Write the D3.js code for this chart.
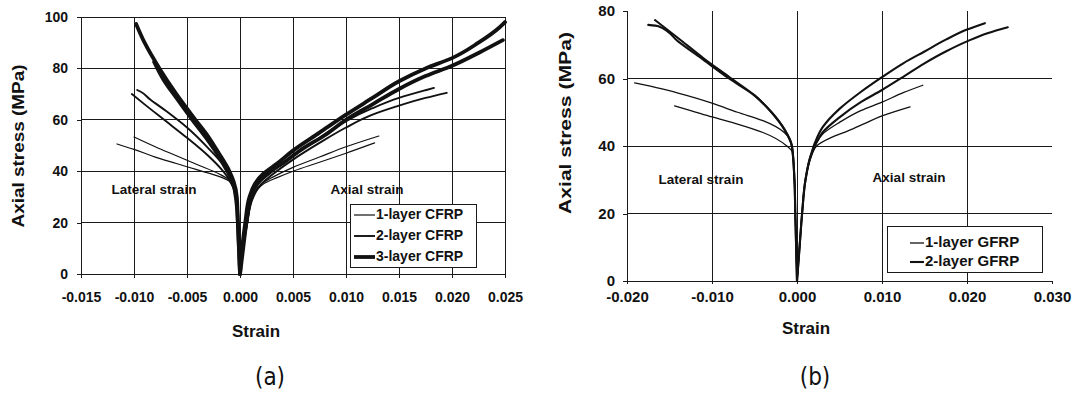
<!DOCTYPE html>
<html lang="en">
<head>
<meta charset="UTF-8">
<title>Axial stress vs strain</title>
<script src="https://cdn.jsdelivr.net/npm/d3@7"></script>
<style>
    body { margin: 0; background: #fff; }
    svg { display: block; }
    text { font-family: "Liberation Sans", Arial, sans-serif; font-weight: bold; fill: #111; }
    .grid line, .frame { stroke: #1a1a1a; stroke-width: 1; shape-rendering: crispEdges; }
    .curve { fill: none; stroke: #111; stroke-linejoin: round; stroke-linecap: round; }
    .caption { font-family: "Liberation Sans Narrow", "DejaVu Sans Condensed", sans-serif; font-weight: normal; }
</style>
</head>
<body>
<div id="chart"></div>
<script>
// ---- panel (a): CFRP ----
const strainTicksA = [-0.015, -0.010, -0.005, 0.000, 0.005, 0.010, 0.015, 0.020, 0.025]
const stressTicksA = [0, 20, 40, 60, 80, 100]
const seriesA = ['1-layer CFRP', '2-layer CFRP', '3-layer CFRP']

// [strain, stress MPa], two specimens per layer count
const cfrp1LatA = [[0,0],[-0.0001,10],[-0.0002,20],[-0.0004,30],[-0.001,36],[-0.002,38],[-0.004,40.5],[-0.006,43],[-0.008,45.5],[-0.010,48.5],[-0.0116,50.6]]
const cfrp1LatB = [[0,0],[-0.0001,10],[-0.0002,20],[-0.0004,30],[-0.001,36.5],[-0.002,39],[-0.004,42.5],[-0.006,46],[-0.008,49.5],[-0.0100,53.3]]
const cfrp1AxA = [[0,0],[0.0003,10],[0.0007,20],[0.0012,30],[0.002,35],[0.003,37.5],[0.005,41.5],[0.0075,45.5],[0.010,49.5],[0.0131,53.7]]
const cfrp1AxB = [[0,0],[0.0003,10],[0.0007,20],[0.0013,30],[0.0022,35],[0.0035,37.5],[0.005,40],[0.0075,43.5],[0.010,47],[0.0127,51]]

const cfrp2LatA = [[0,0],[-0.0001,10],[-0.0002,20],[-0.0004,30],[-0.0008,37],[-0.0015,42],[-0.003,49],[-0.005,57],[-0.007,63.5],[-0.0085,68],[-0.0094,71],[-0.0097,71.6]]
const cfrp2LatB = [[0,0],[-0.0001,10],[-0.0002,20],[-0.0004,30],[-0.0009,36],[-0.0017,40.5],[-0.003,46],[-0.005,53],[-0.007,59.5],[-0.009,66],[-0.0102,70]]
const cfrp2AxA = [[0,0],[0.0003,10],[0.0006,20],[0.001,30],[0.0017,35],[0.0028,39],[0.005,46],[0.0075,53],[0.010,59.5],[0.0125,64.5],[0.015,68.5],[0.0175,71.5],[0.0183,72.4]]
const cfrp2AxB = [[0,0],[0.0003,10],[0.0007,20],[0.0012,30],[0.002,35],[0.003,38.5],[0.005,44.5],[0.0075,51],[0.010,57],[0.0125,62],[0.015,65.5],[0.0175,68.5],[0.0195,70.5]]

const cfrp3LatA = [[0,0],[-0.0001,10],[-0.0002,20],[-0.0003,30],[-0.0006,36],[-0.001,40],[-0.002,47],[-0.003,53.5],[-0.0042,60],[-0.006,70],[-0.0076,80],[-0.009,90],[-0.0098,97.3]]
const cfrp3LatB = [[0,0],[-0.0001,10],[-0.0002,20],[-0.0004,30],[-0.0007,36],[-0.0012,40],[-0.0022,47],[-0.0033,53.5],[-0.0045,60],[-0.006,68.5],[-0.0072,75.5],[-0.0081,82.5]]
const cfrp3AxA = [[0,0],[0.0002,10],[0.0005,20],[0.0009,30],[0.0014,35],[0.0022,39],[0.0035,43],[0.005,48],[0.0075,55],[0.010,62],[0.0125,68.5],[0.015,75],[0.0175,80],[0.020,84],[0.0225,90],[0.0245,96],[0.025,98]]
const cfrp3AxB = [[0,0],[0.0003,10],[0.0006,20],[0.001,30],[0.0016,35],[0.0025,39],[0.004,43],[0.006,49],[0.008,54],[0.010,60],[0.0125,66],[0.015,72],[0.0175,77],[0.020,81],[0.0225,86],[0.0248,91]]

// ---- panel (b): GFRP ----
const strainTicksB = [-0.020, -0.010, 0.000, 0.010, 0.020, 0.030]
const stressTicksB = [0, 20, 40, 60, 80]
const seriesB = ['1-layer GFRP', '2-layer GFRP']

const gfrp1LatA = [[0,0],[-0.0001,10],[-0.0002,20],[-0.0003,30],[-0.0006,40],[-0.0015,44],[-0.004,47.5],[-0.007,50],[-0.010,52.7],[-0.013,55],[-0.016,57],[-0.0191,58.7]]
const gfrp1LatB = [[0,0],[-0.0001,10],[-0.0002,20],[-0.0003,30],[-0.0005,38],[-0.0012,40],[-0.004,44],[-0.007,46.5],[-0.010,48.6],[-0.0125,50.5],[-0.0144,51.9]]
const gfrp1AxA = [[0,0],[0.0003,10],[0.0006,20],[0.001,30],[0.0016,37],[0.0022,40.5],[0.003,43.5],[0.005,47],[0.0075,50.5],[0.010,53],[0.0125,55.8],[0.0148,58]]
const gfrp1AxB = [[0,0],[0.0003,10],[0.0006,20],[0.001,30],[0.0017,37],[0.0023,40],[0.004,42.5],[0.006,44.5],[0.008,46.7],[0.010,48.9],[0.0133,51.6]]

const gfrp2LatA = [[0,0],[-0.0001,10],[-0.0002,20],[-0.0003,30],[-0.0006,40],[-0.0015,45],[-0.003,50],[-0.005,55],[-0.008,60.5],[-0.011,66],[-0.014,72],[-0.0167,77.3]]
const gfrp2LatB = [[0,0],[-0.0001,10],[-0.0002,20],[-0.0003,30],[-0.0006,40],[-0.0015,45],[-0.003,50],[-0.005,55],[-0.008,60],[-0.011,65.5],[-0.014,71],[-0.0163,75.5],[-0.0175,75.9]]
const gfrp2AxA = [[0,0],[0.0003,10],[0.0006,20],[0.001,30],[0.0016,37],[0.0021,40.9],[0.003,45.5],[0.005,51],[0.0075,56],[0.010,60.4],[0.0125,64.5],[0.015,68],[0.0175,71.5],[0.020,74.5],[0.0221,76.4]]
const gfrp2AxB = [[0,0],[0.0003,10],[0.0006,20],[0.001,30],[0.0016,37],[0.0022,40.5],[0.003,44],[0.005,48.5],[0.0075,53],[0.010,56.6],[0.0125,60.5],[0.015,64.5],[0.0175,68],[0.020,71],[0.0225,73.5],[0.0248,75.2]]

const curvesA = [
    [cfrp1LatA, cfrp1LatB, cfrp1AxA, cfrp1AxB],
    [cfrp2LatA, cfrp2LatB, cfrp2AxA, cfrp2AxB],
    [cfrp3LatA, cfrp3LatB, cfrp3AxA, cfrp3AxB],
]
const curvesB = [
    [gfrp1LatA, gfrp1LatB, gfrp1AxA, gfrp1AxB],
    [gfrp2LatA, gfrp2LatB, gfrp2AxA, gfrp2AxB],
]

const svg = d3.select('#chart').append('svg').attr('width', 1075).attr('height', 400)

function drawPanel(p) {
    const x = d3.scaleLinear().domain(p.xDomain).range(p.xRange)
    const y = d3.scaleLinear().domain(p.yDomain).range(p.yRange)
    const g = svg.append('g')

    // grid
    const grid = g.append('g').attr('class', 'grid')
    grid.selectAll('.h').data(p.hGrid).enter().append('line')
        .attr('x1', x(p.xDomain[0])).attr('x2', x(p.xDomain[1]))
        .attr('y1', d => y(d)).attr('y2', d => y(d))
    grid.selectAll('.v').data(p.vGrid).enter().append('line')
        .attr('x1', d => x(d)).attr('x2', d => x(d))
        .attr('y1', y(0)).attr('y2', y(p.yDomain[1]))

    // axes
    const yAxis = g.append('g').attr('transform', `translate(${x(p.xDomain[0])},0)`)
        .call(d3.axisLeft(y).tickValues(p.yTicks).tickSize(4).tickPadding(p.yPad))
    const xAxis = g.append('g').attr('transform', `translate(0,${y(0)})`)
        .call(d3.axisBottom(x).tickValues(p.xTicks).tickFormat(d3.format('.3f')).tickSize(p.xTick).tickPadding(p.xPad))
    ;[yAxis, xAxis].forEach(a => {
        a.selectAll('path, line').attr('stroke', '#1a1a1a').attr('shape-rendering', 'crispEdges')
        a.selectAll('text').attr('fill', '#111').style('font-size', p.tickFont + 'px')
            .style('font-family', '"Liberation Sans", Arial, sans-serif').style('font-weight', 'bold')
    })
    xAxis.selectAll('text').text(d => d3.format('.3f')(d).replace('−', '-'))

    // curves
    const line = d3.line().x(d => x(d[0])).y(d => y(d[1])).curve(d3.curveMonotoneY)
    p.curves.forEach((set, i) => {
        g.append('g').selectAll('path').data(set).enter().append('path')
            .attr('class', 'curve')
            .attr('stroke-width', p.widths[i])
            .attr('d', line)
    })

    // annotations
    g.append('text').attr('x', p.latPos[0]).attr('y', p.latPos[1]).attr('text-anchor', 'middle')
        .attr('dominant-baseline', 'middle').style('font-size', p.noteFont + 'px').text('Lateral strain')
    g.append('text').attr('x', p.axPos[0]).attr('y', p.axPos[1]).attr('text-anchor', 'middle')
        .attr('dominant-baseline', 'middle').style('font-size', p.noteFont + 'px').text('Axial strain')

    // axis titles
    g.append('text').attr('transform', `translate(${p.yTitle[0]},${p.yTitle[1]}) rotate(-90)`)
        .attr('text-anchor', 'middle').attr('dominant-baseline', 'middle')
        .attr('textLength', p.yTitle[2]).attr('lengthAdjust', 'spacingAndGlyphs')
        .style('font-size', p.titleFont + 'px').text('Axial stress (MPa)')
    g.append('text').attr('x', p.xTitle[0]).attr('y', p.xTitle[1]).attr('text-anchor', 'middle')
        .attr('dominant-baseline', 'middle').style('font-size', p.titleFont + 'px').text('Strain')

    // legend
    const lg = g.append('g')
    lg.append('rect').attr('x', p.legBox[0]).attr('y', p.legBox[1])
        .attr('width', p.legBox[2]).attr('height', p.legBox[3])
        .attr('fill', '#fff').attr('stroke', '#1a1a1a').attr('shape-rendering', 'crispEdges')
    p.series.forEach((name, i) => {
        const yy = p.legY[i]
        lg.append('line').attr('x1', p.legLine[0]).attr('x2', p.legLine[1])
            .attr('y1', yy).attr('y2', yy).attr('stroke', '#111').attr('stroke-width', p.widths[i])
        lg.append('text').attr('x', p.legLine[1] + 1).attr('y', yy).attr('dominant-baseline', 'middle')
            .style('font-size', p.legFont + 'px').text(name)
    })

    // caption
    svg.append('text').attr('class', 'caption').attr('x', p.caption[0]).attr('y', p.caption[1])
        .attr('text-anchor', 'middle').attr('dominant-baseline', 'middle')
        .style('font-size', '24px').text(p.caption[2])
}

drawPanel({
    xDomain: [-0.015, 0.025], xRange: [81, 505],
    yDomain: [0, 100], yRange: [274, 17],
    xTicks: strainTicksA, yTicks: stressTicksA,
    hGrid: [20, 40, 60, 80, 100], vGrid: strainTicksA.slice(1),
    curves: curvesA, series: seriesA, widths: [1.2, 1.9, 3.8],
    tickFont: 14, yPad: 9, xTick: 4, xPad: 14,
    noteFont: 13.5, latPos: [154, 190], axPos: [367, 190],
    titleFont: 17, yTitle: [20, 146, 163], xTitle: [256, 333],
    legBox: [350, 204, 126, 63], legY: [215, 236, 257], legLine: [354, 375], legFont: 14,
    caption: [270, 378, '(a)'],
})

drawPanel({
    xDomain: [-0.020, 0.030], xRange: [627, 1052],
    yDomain: [0, 80], yRange: [281, 11],
    xTicks: strainTicksB, yTicks: stressTicksB,
    hGrid: [20, 40, 60], vGrid: [-0.010, 0.000, 0.010, 0.020],
    curves: curvesB, series: seriesB, widths: [1.3, 2.1],
    tickFont: 15, yPad: 8, xTick: 3, xPad: 7,
    noteFont: 13.5, latPos: [701, 180], axPos: [909, 178],
    titleFont: 17, yTitle: [567, 123, 182], xTitle: [806, 330],
    legBox: [887, 226, 155, 46], legY: [243, 262], legLine: [910, 924], legFont: 15,
    caption: [815, 378, '(b)'],
})
</script>
</body>
</html>
